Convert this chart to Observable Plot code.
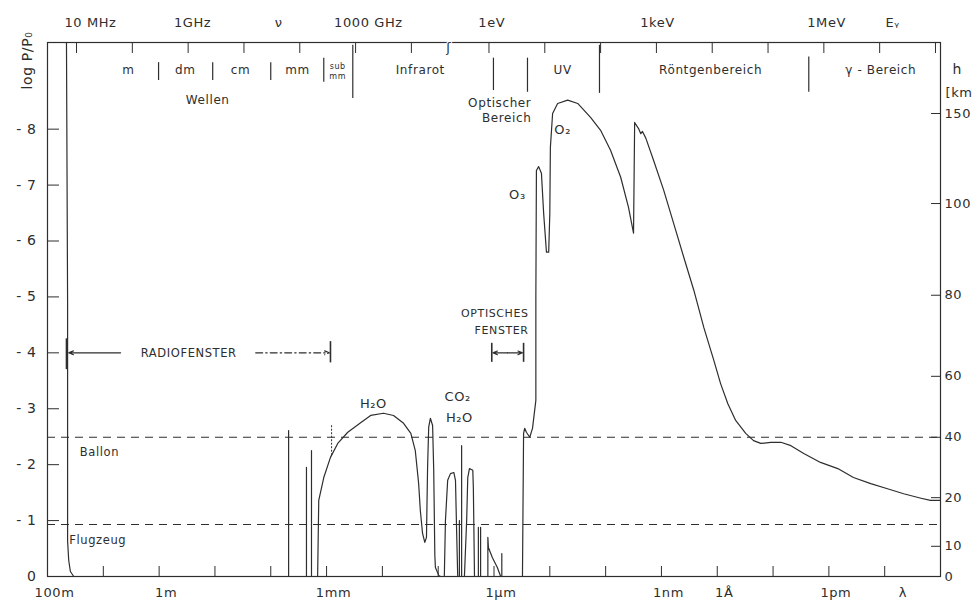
<!DOCTYPE html>
<html>
<head>
<meta charset="utf-8">
<script src="https://cdn.jsdelivr.net/npm/d3@7"></script>
<script src="https://cdn.jsdelivr.net/npm/@observablehq/plot@0.6"></script>
<style>
  html, body { margin: 0; padding: 0; background: #fff; }
  #chart svg { display: block; }
  #chart svg text { letter-spacing: 0.6px; }
</style>
</head>
<body>
<div id="chart"></div>
<script>
// Durchlässigkeit der Erdatmosphäre für elektromagnetische Strahlung.
// x: log10(λ / m), nach rechts abnehmend;  y: -log P/P0 (Eindringtiefe), rechts als Höhe h in km.

// Grenzkurve, abschnittsweise: [log10 λ, -log P/P0]
const radioCutoff = [[1.66, 9.55], [1.64, 4.9], [1.64, 0.64], [1.62, 0.29], [1.59, 0.09], [1.53, 0], [-2.30, 0]];
const microwaveLines = [[-2.32, 0], [-2.32, 2.61], [-2.32, 0], [-2.64, 0], [-2.64, 1.95], [-2.64, 0],
  [-2.73, 0], [-2.73, 2.25], [-2.73, 0], [-2.84, 0]];
const waterBand = [[-2.86, 1.36], [-2.95, 1.77], [-3.07, 2.13], [-3.20, 2.38], [-3.38, 2.58], [-3.61, 2.75],
  [-3.79, 2.88], [-4.02, 2.92], [-4.20, 2.88], [-4.38, 2.74], [-4.51, 2.56], [-4.59, 2.25], [-4.65, 1.66],
  [-4.68, 1.18], [-4.72, 0.77], [-4.76, 0.61], [-4.79, 0.70], [-4.81, 1.95], [-4.83, 2.67], [-4.86, 2.83],
  [-4.90, 2.70], [-4.92, 1.90], [-4.94, 0.38], [-4.95, 0.16], [-5.01, 0.02], [-5.04, 0]];
const infraredBands = [[-5.11, 0], [-5.13, 1.00], [-5.17, 1.72], [-5.22, 1.84], [-5.28, 1.86], [-5.31, 1.72],
  [-5.33, 0.82], [-5.35, 0], [-5.38, 0], [-5.38, 1.00], [-5.38, 0], [-5.42, 0], [-5.42, 2.34], [-5.42, 0],
  [-5.47, 0], [-5.51, 1.00], [-5.53, 1.77], [-5.56, 1.93], [-5.62, 1.90], [-5.63, 1.59], [-5.65, 0.05],
  [-5.65, 0], [-5.72, 0], [-5.72, 0.88], [-5.72, 0], [-5.76, 0], [-5.76, 0.88], [-5.76, 0], [-5.89, 0],
  [-5.89, 0.70], [-5.90, 0.52], [-5.97, 0.34], [-6.06, 0.16], [-6.12, 0], [-6.14, 0], [-6.14, 0.41],
  [-6.14, 0], [-6.51, 0]];
const uvBand = [[-6.53, 2.56], [-6.55, 2.65], [-6.58, 2.58], [-6.64, 2.49], [-6.69, 2.65], [-6.75, 3.15],
  [-6.75, 5.0], [-6.76, 7.26], [-6.80, 7.33], [-6.85, 7.21], [-6.89, 6.49], [-6.94, 5.80], [-6.98, 5.80],
  [-7.00, 6.49], [-7.01, 7.67], [-7.05, 8.28], [-7.14, 8.46], [-7.32, 8.52], [-7.50, 8.46], [-7.73, 8.21],
  [-7.91, 7.98], [-8.09, 7.62], [-8.27, 7.14], [-8.41, 6.60], [-8.50, 6.14]];
const xrayBand = [[-8.52, 8.12], [-8.59, 8.01], [-8.63, 7.92], [-8.66, 7.96], [-8.72, 7.84], [-8.86, 7.44],
  [-9.04, 6.91], [-9.22, 6.31], [-9.40, 5.71], [-9.58, 5.12], [-9.76, 4.45], [-9.94, 3.86], [-10.06, 3.45],
  [-10.19, 3.09], [-10.33, 2.79], [-10.51, 2.56], [-10.65, 2.43], [-10.78, 2.38], [-10.96, 2.40],
  [-11.14, 2.40], [-11.32, 2.34], [-11.55, 2.20], [-11.85, 2.04], [-12.16, 1.93], [-12.44, 1.77],
  [-12.75, 1.66], [-13.05, 1.57], [-13.34, 1.48], [-13.65, 1.40], [-13.82, 1.36], [-14.0, 1.36]];
// einzelne Absorptionslinie über der H2O-Bande: [log10 λ, von, bis]
const extraLines = [[-3.09, 2.16, 2.70]];

// Höhengrenzen
const balloon = 2.49;
const aircraft = 0.93;

// Achsen
const logPTicks = [0, 1, 2, 3, 4, 5, 6, 7, 8];
const kmPos = [0, 0.54, 1.41, 2.49, 3.58, 5.03, 6.67, 8.28];
const kmLabels = ["0", "10", "20", "40", "60", "80", "100", "150"];
const lambdaTicks = [1, 0, -1, -2, -3, -4, -5, -6, -7, -8, -9, -10, -11, -12, -13];
const lambdaLabelPos = [2, 0, -3, -6, -9, -10, -12, -13.2];
const lambdaLabels = ["100m", "1m", "1mm", "1µm", "1nm", "1Å", "1pm", "λ"];
const nuTicks = [1.48, 0.48, -0.52, -1.52, -2.52, -3.52, -4.52, -5.91, -6.91, -7.91, -8.91, -9.91, -10.91, -11.91, -12.91, -13.91];
const nuLabelPos = [1.23, -0.60, -2.14, -3.75, -5.96, -8.93, -11.96, -13.14];
const nuLabels = ["10 MHz", "1GHz", "ν", "1000 GHz", "1eV", "1keV", "1MeV", "Eᵧ"];
const axisBreak = -5.19;

// Spektralbereiche
const bandPos = [0.55, -0.47, -1.46, -2.48, -4.68, -7.23, -9.88, -12.93];
const bandNames = ["m", "dm", "cm", "mm", "Infrarot", "UV", "Röntgenbereich", "γ - Bereich"];
const bandEdgePos = [0.01, -0.96, -2.00, -2.95, -3.47, -5.99, -6.60, -7.89, -11.64];
const bandEdgeLow = [8.87, 8.87, 8.87, 8.84, 8.55, 8.69, 8.66, 8.64, 8.66];
const bandEdgeHigh = [9.19, 9.19, 9.19, 9.27, 9.50, 9.27, 9.27, 9.50, 9.29];

// Beschriftungen im Diagramm: [log10 λ, -log P/P0, Text, Ausrichtung, Schriftgröße]
const notes = [
  [-3.20, 9.12, "sub", "middle", 8],
  [-3.20, 8.94, "mm", "middle", 8],
  [-0.87, 8.52, "Wellen", "middle", 12],
  [-6.67, 8.46, "Optischer", "end", 12],
  [-6.67, 8.19, "Bereich", "end", 12],
  [1.07, 2.22, "Ballon", "middle", 11.5],
  [1.10, 0.64, "Flugzeug", "middle", 11.5],
  [-3.84, 3.09, "H₂O", "middle", 13],
  [-5.35, 3.22, "CO₂", "middle", 13],
  [-5.38, 2.83, "H₂O", "middle", 13],
  [-6.42, 6.82, "O₃", "middle", 13],
  [-7.23, 7.98, "O₂", "middle", 13],
  [-0.53, 4.0, "RADIOFENSTER", "middle", 11.5],
  [-6.62, 4.70, "OPTISCHES", "end", 11],
  [-6.62, 4.40, "FENSTER", "end", 11]
];

// Fenster-Pfeile: [von, nach, Höhe]
const solidArrows = [[0.69, 1.62, 4.0], [-6.245, -5.98, 4.0], [-6.245, -6.51, 4.0]];
const dashDotArrows = [[-1.73, -3.05, 4.0]];
const windowBars = [[1.66, 3.7, 4.25], [-3.07, 3.82, 4.2], [-5.96, 3.83, 4.17], [-6.53, 3.83, 4.17]];

const ink = "#2e2e2e";
const font = "'DejaVu Sans', 'Liberation Sans', Arial, sans-serif";

const curve = [...radioCutoff, ...microwaveLines, ...waterBand, ...infraredBands, ...uvBand, ...xrayBand];
const kmByPos = new Map(kmPos.map((p, i) => [p, kmLabels[i]]));
const yLabel = d => d === 0 ? "0" : "- " + d;
const arrowOpts = {x1: d => d[0], x2: d => d[1], y1: d => d[2], y2: d => d[2], stroke: ink,
  strokeWidth: 1.1, headLength: 7, headAngle: 45};
const noteOpts = {x: d => d[0], y: d => d[1], text: d => d[2], fontSize: d => d[4], fill: ink};

const chart = Plot.plot({
  width: 974,
  height: 606,
  marginTop: 42,
  marginRight: 34,
  marginBottom: 30,
  marginLeft: 47,
  x: {type: "linear", domain: [2, -14], axis: null},
  y: {type: "linear", domain: [0, 9.55], axis: null},
  style: {fontFamily: font, color: ink, background: "#fff"},
  marks: [
    Plot.frame({stroke: ink, strokeWidth: 1.2}),
    // Höhen von Ballon und Flugzeug
    Plot.ruleY([balloon, aircraft], {stroke: ink, strokeWidth: 1.1, strokeDasharray: "8,6"}),
    // linke Achse
    Plot.axisY(logPTicks, {anchor: "left", tickSize: -12, tickPadding: 23, tickFormat: yLabel,
      fontSize: 14, stroke: ink, fill: ink}),
    Plot.text(["log P/P₀"], {frameAnchor: "top-left", text: d => d, rotate: -90, textAnchor: "middle",
      dx: -25, dy: 18, fontSize: 14, fill: ink}),
    // rechte Achse (Höhe)
    Plot.axisY(kmPos, {anchor: "right", tickSize: -10, tickPadding: 14, tickFormat: d => kmByPos.get(d),
      fontSize: 13, stroke: ink, fill: ink}),
    Plot.text(["h"], {frameAnchor: "top-right", text: d => d, dx: 12, dy: 22, textAnchor: "start", fontSize: 14, fill: ink}),
    Plot.text(["[km"], {frameAnchor: "top-right", text: d => d, dx: 5, dy: 45, textAnchor: "start", fontSize: 13, fill: ink}),
    // Wellenlängenachse unten
    Plot.axisX(lambdaTicks, {anchor: "bottom", tickSize: -10, tickFormat: () => "", stroke: ink}),
    Plot.text(lambdaLabelPos, {x: d => d, text: (d, i) => lambdaLabels[i], frameAnchor: "bottom", dy: 20, dx: 7,
      fontSize: 13, fill: ink}),
    // Frequenz-/Energieachse oben
    Plot.axisX(nuTicks, {anchor: "top", tickSize: -10, tickFormat: () => "", stroke: ink}),
    Plot.text(nuLabelPos, {x: d => d, text: (d, i) => nuLabels[i], frameAnchor: "top", dy: -25,
      fontSize: 13, fill: ink}),
    Plot.text([axisBreak], {x: d => d, text: () => "ʃ", frameAnchor: "top", dy: 0, fontSize: 13, fill: ink,
      stroke: "#fff", strokeWidth: 2, paintOrder: "stroke"}),
    // Spektralbereiche
    Plot.ruleX(bandEdgePos, {x: d => d, y1: (d, i) => bandEdgeLow[i], y2: (d, i) => bandEdgeHigh[i],
      stroke: ink, strokeWidth: 1.2}),
    Plot.text(bandPos, {x: d => d, y: 9.05, text: (d, i) => bandNames[i], fontSize: 12, fill: ink}),
    // Grenzkurve
    Plot.line(curve, {x: d => d[0], y: d => d[1], stroke: ink, strokeWidth: 1.2, strokeLinejoin: "round"}),
    Plot.ruleX(extraLines, {x: d => d[0], y1: d => d[1], y2: d => d[2], stroke: ink, strokeWidth: 1,
      strokeDasharray: "2,1.5"}),
    // Radio- und optisches Fenster
    Plot.arrow(solidArrows, arrowOpts),
    Plot.arrow(dashDotArrows, {...arrowOpts, strokeDasharray: "7,3,1.5,3"}),
    Plot.ruleX(windowBars, {x: d => d[0], y1: d => d[1], y2: d => d[2], stroke: ink, strokeWidth: 1.6}),
    Plot.text(notes.filter(d => d[3] === "middle"), noteOpts),
    Plot.text(notes.filter(d => d[3] === "end"), {...noteOpts, textAnchor: "end"})
  ]
});

document.getElementById("chart").append(chart);
</script>
</body>
</html>
